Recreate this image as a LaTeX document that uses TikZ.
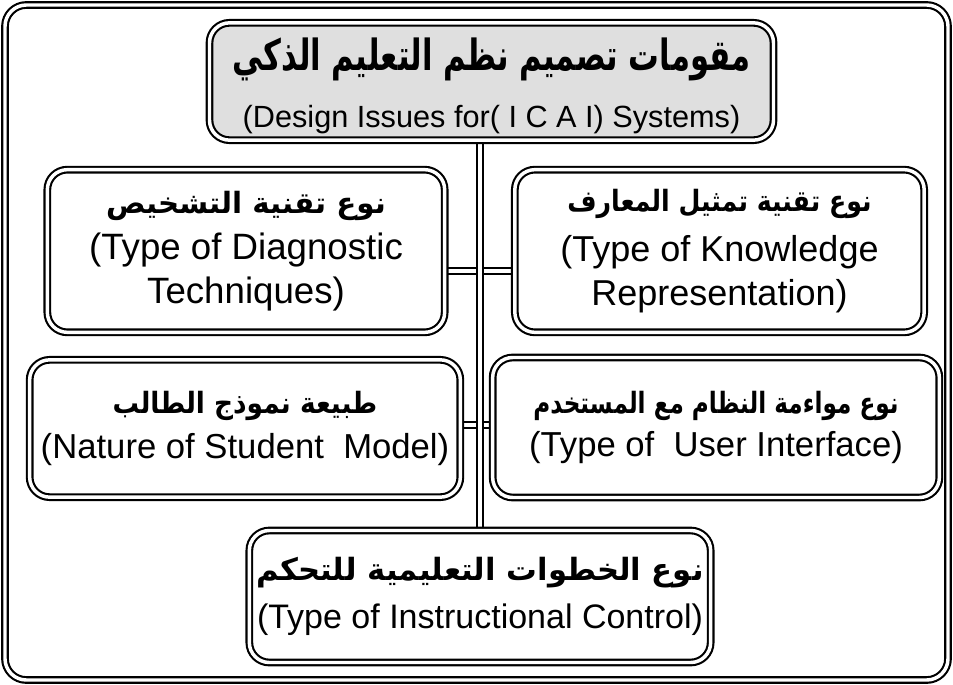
\documentclass[tikz,border=0pt]{standalone}
\usepackage{graphicx}
\usepackage{fontspec}
\setmainfont{Liberation Sans}
\newfontfamily\arabicfont[Script=Arabic]{DejaVu Sans}
\TeXXeTstate=1
\usetikzlibrary{backgrounds}
\tikzset{
  dblline/.style={draw=black, line width=1.6pt, double=white, double distance=2.6pt},
  topic/.style={dblline, rounded corners=15pt, align=center, inner sep=0pt, fill=white},
  headbox/.style={topic, fill=gray!25},
  conn/.style={draw=black, line width=1.4pt, double=white, double distance=3.6pt},
}
\newcommand{\arf}[1]{\arabicfont\bfseries\fontsize{#1}{#1}\selectfont}
\begin{document}
\begin{tikzpicture}[x=0.75pt,y=-0.75pt]
\useasboundingbox (0,0) rectangle (953,685);
% outer frame
\draw[dblline, rounded corners=16pt] (5,5) rectangle (948,680);

\node[headbox, minimum width=423pt, minimum height=88pt,
      font=\fontsize{23}{28}\selectfont] (head) at (491.5,81.5)
  {\raisebox{-5pt}[\height][\depth]{\begin{tabular}{@{}c@{}}
   \scalebox{1}[1.4]{\arf{23}\beginR مقومات تصميم نظم التعليم الذكي\endR}\\[15pt]
   (Design Issues for( I C A I) Systems)\end{tabular}}};

\node[topic, minimum width=298pt, minimum height=122pt,
      font=\fontsize{27.5}{33}\selectfont] (diag) at (246,251)
  {\scalebox{1}[1]{\arf{22}\beginR نوع تقنية التشخيص\endR}\\[2pt](Type of Diagnostic\\Techniques)};

\node[topic, minimum width=307pt, minimum height=122pt,
      font=\fontsize{27}{33}\selectfont] (know) at (719.5,251)
  {\scalebox{0.86}[1]{\arf{22}\beginR نوع تقنية تمثيل المعارف\endR}\\[4pt](Type of Knowledge\\Representation)};

\node[topic, minimum width=323pt, minimum height=103pt,
      font=\fontsize{26}{32}\selectfont] (stud) at (245,428.5)
  {\scalebox{0.9}[1]{\arf{22}\beginR طبيعة نموذج الطالب\endR}\\[2pt](Nature of Student\ \ Model)};

\node[topic, minimum width=335pt, minimum height=105pt,
      font=\fontsize{26}{32}\selectfont] (ui) at (716,427.5)
  {\scalebox{0.79}[1]{\arf{22}\beginR نوع مواءمة النظام مع المستخدم\endR}\\[0pt](Type of\ \ User Interface)};

\node[topic, minimum width=346pt, minimum height=99pt,
      font=\fontsize{25.5}{31}\selectfont] (ctrl) at (480,596.5)
  {\scalebox{1}[1]{\arf{23}\beginR نوع الخطوات التعليمية للتحكم\endR}\\[5pt](Type of Instructional Control)};

\coordinate (h1) at (0,271);
\coordinate (h2) at (0,425);
\coordinate (vx) at (480,0);
\begin{scope}[on background layer]
  \draw[conn] (diag.east |- h1) -- (know.west |- h1);
  \draw[conn] (stud.east |- h2) -- (ui.west |- h2);
  \draw[conn] (head.south -| vx) -- (ctrl.north -| vx);
\end{scope}
\end{tikzpicture}
\end{document}
